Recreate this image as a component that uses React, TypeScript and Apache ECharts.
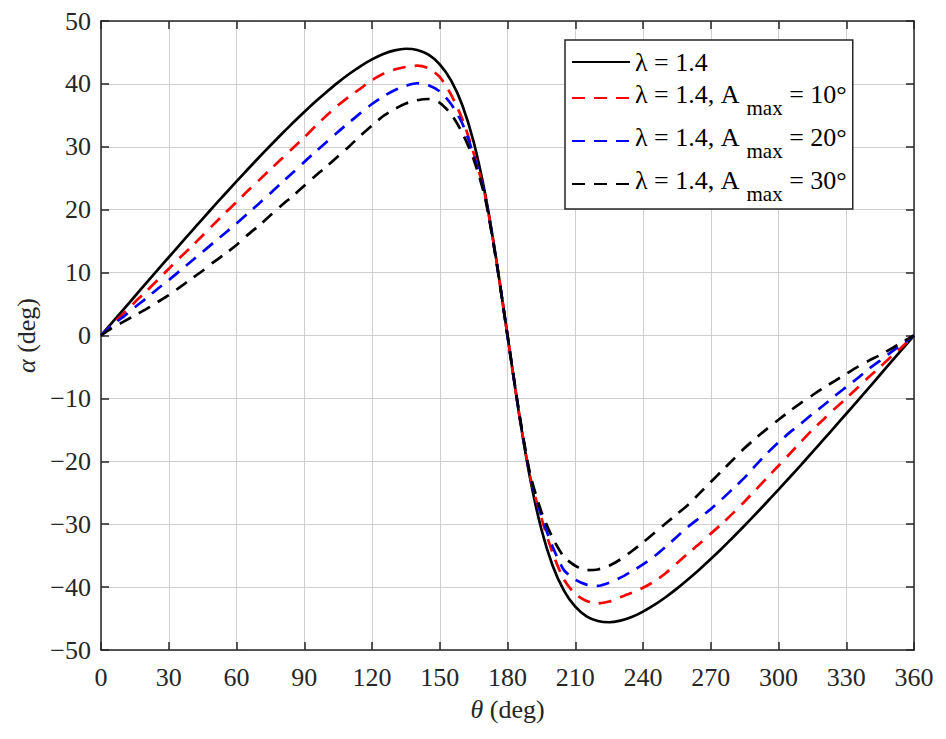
import React, { useEffect, useRef } from "react";
import * as echarts from "echarts";

const theta = [0,5,10,15,20,25,30,35,40,45,50,55,60,65,70,75,80,85,90,95,100,105,110,115,120,125,130,135,140,145,150,155,160,165,170,175,180,185,190,195,200,205,210,215,220,225,230,235,240,245,250,255,260,265,270,275,280,285,290,295,300,305,310,315,320,325,330,335,340,345,350,355,360];

const alphaBase = [0,2.08,4.16,6.24,8.32,10.38,12.44,14.49,16.53,18.55,20.56,22.54,24.5,26.43,28.34,30.21,32.04,33.82,35.54,37.19,38.76,40.25,41.61,42.84,43.89,44.75,45.33,45.59,45.39,44.64,43.12,40.56,36.61,30.8,22.69,12.18,0,
-12.18,-22.69,-30.8,-36.61,-40.56,-43.12,-44.64,-45.39,-45.59,-45.33,-44.75,-43.89,-42.84,-41.61,-40.25,-38.76,-37.19,-35.54,-33.82,-32.04,-30.21,-28.34,-26.43,-24.5,-22.54,-20.56,-18.55,-16.53,-14.49,-12.44,-10.38,-8.32,-6.24,-4.16,-2.08,0];

const alphaA10 = [0,1.8,3.5,5.3,7.0,8.8,10.6,12.4,14.1,15.9,17.7,19.5,21.2,23.0,24.7,26.4,28.1,29.8,31.5,33.3,35.0,36.6,38.0,39.3,40.6,41.6,42.3,42.7,42.9,42.5,41.1,38.3,34.4,29.0,22.4,12.1,0,
-12.1,-22.4,-29.0,-34.6,-38.8,-41.1,-42.2,-42.6,-42.3,-41.6,-40.9,-40.1,-39.1,-37.8,-36.2,-34.6,-33.1,-31.5,-29.9,-28.2,-26.4,-24.5,-22.6,-20.7,-18.8,-16.9,-15.0,-13.3,-11.6,-10.0,-8.3,-6.6,-5.0,-3.3,-1.7,0];

const alphaA20 = [0,1.7,3.0,4.5,5.9,7.4,8.8,10.3,11.8,13.3,14.8,16.3,17.8,19.4,21.0,22.6,24.3,25.9,27.6,29.2,30.8,32.4,33.9,35.4,36.8,38.0,39.0,39.7,40.1,39.8,38.8,36.8,33.7,28.7,22.3,12.0,0,
-12.0,-22.3,-28.7,-33.6,-37.3,-38.8,-39.6,-39.8,-39.3,-38.5,-37.5,-36.4,-35.1,-33.6,-32.0,-30.4,-29.0,-27.6,-26.0,-24.3,-22.6,-20.6,-18.7,-17.0,-15.4,-14.0,-12.5,-11.1,-9.6,-8.2,-6.8,-5.3,-4.0,-2.6,-1.3,0];

const alphaA30 = [0,1.2,2.2,3.2,4.2,5.3,6.4,7.7,9.0,10.3,11.7,13.0,14.4,16.0,17.5,19.1,20.7,22.2,23.8,25.4,26.9,28.5,30.1,31.8,33.4,34.9,36.0,36.9,37.4,37.6,37.0,35.2,32.2,28.0,22.0,11.9,0,
-11.9,-22.0,-28.0,-32.2,-35.2,-36.6,-37.3,-37.2,-36.6,-35.6,-34.3,-32.9,-31.4,-29.9,-28.4,-26.9,-25.1,-23.3,-21.5,-19.7,-17.9,-16.3,-14.8,-13.4,-12.0,-10.7,-9.5,-8.3,-7.2,-6.1,-5.0,-4.0,-3.1,-2.1,-1.0,0];

const seriesNames = ["λ = 1.4", "λ = 1.4, Amax = 10°", "λ = 1.4, Amax = 20°", "λ = 1.4, Amax = 30°"];
const legendMain = ["λ = 1.4", "λ = 1.4, A", "λ = 1.4, A", "λ = 1.4, A"];
const legendSub = ["", "max", "max", "max"];
const legendTail = ["", " = 10°", " = 20°", " = 30°"];
const seriesColors = ["#000000", "#ff0000", "#0000ff", "#000000"];
const seriesDashed = [false, true, true, true];
const seriesValues = [alphaBase, alphaA10, alphaA20, alphaA30];

const FONT = "Liberation Serif";
const AXIS_COLOR = "#262626";

export default function App() {
  const ref = useRef<HTMLDivElement>(null);

  useEffect(() => {
    if (!ref.current) return;
    const chart = echarts.init(ref.current, undefined, { renderer: "svg" });

    const axisLine = { show: true, onZero: false, lineStyle: { color: AXIS_COLOR, width: 1.5 } };
    const axisTick = { show: true, inside: true, length: 8, lineStyle: { color: AXIS_COLOR, width: 1.5 } };
    const splitLine = { show: true, lineStyle: { color: "#cfcfcf", width: 1 } };
    const labelStyle = { fontFamily: FONT, fontSize: 26, color: AXIS_COLOR };
    const nameStyle = {
      fontFamily: FONT,
      fontSize: 26,
      color: AXIS_COLOR,
      rich: { i: { fontFamily: FONT, fontSize: 26, color: AXIS_COLOR, fontStyle: "italic" } },
    };

    const option: any = {
      animation: false,
      backgroundColor: "#ffffff",
      textStyle: { fontFamily: FONT },
      grid: { left: 101, top: 21, right: 32, bottom: 89, containLabel: false },
      xAxis: [
        {
          type: "value", min: 0, max: 360, interval: 30, position: "bottom",
          name: "{i|θ} (deg)", nameLocation: "middle", nameGap: 46, nameTextStyle: nameStyle,
          axisLine, axisTick,
          axisLabel: { ...labelStyle, margin: 14 },
          splitLine,
        },
        {
          type: "value", min: 0, max: 360, interval: 30, position: "top",
          axisLine, axisTick, axisLabel: { show: false }, splitLine: { show: false },
        },
      ],
      yAxis: [
        {
          type: "value", min: -50, max: 50, interval: 10, position: "left",
          name: "{i|α} (deg)", nameLocation: "middle", nameGap: 50, nameTextStyle: nameStyle,
          axisLine, axisTick,
          axisLabel: {
            ...labelStyle, margin: 10,
            formatter: (v: number) => (v < 0 ? "\u2212" + Math.abs(v) : String(v)),
          },
          splitLine,
        },
        {
          type: "value", min: -50, max: 50, interval: 10, position: "right",
          axisLine, axisTick, axisLabel: { show: false }, splitLine: { show: false },
        },
      ],
      legend: {
        orient: "vertical",
        left: 565,
        top: 40,
        padding: [9, 6, 5, 6],
        itemGap: 3,
        itemWidth: 58,
        itemHeight: 14,
        selectedMode: false,
        backgroundColor: "#ffffff",
        borderColor: AXIS_COLOR,
        borderWidth: 1.5,
        itemStyle: { opacity: 0 },
        data: seriesNames,
        formatter: (name: string) => {
          const i = seriesNames.indexOf(name);
          if (!legendSub[i]) return `{r|${legendMain[i]}}`;
          return `{m|${legendMain[i]}}{s|${legendSub[i]}}{m|${legendTail[i]}}`;
        },
        textStyle: {
          fontFamily: FONT,
          fontSize: 26,
          color: "#000000",
          rich: {
            r: { fontFamily: FONT, fontSize: 26, lineHeight: 26, color: "#000000" },
            m: { fontFamily: FONT, fontSize: 26, lineHeight: 26, color: "#000000", padding: [0, 0, 8, 0] },
            s: { fontFamily: FONT, fontSize: 21, lineHeight: 38, color: "#000000", padding: [19, 0, 0, 7] },
          },
        },
      },
      series: seriesNames.map((name, k) => ({
        name,
        type: "line",
        xAxisIndex: 0,
        yAxisIndex: 0,
        data: theta.map((t, i) => [t, seriesValues[k][i]]),
        symbol: "none",
        showSymbol: false,
        smooth: 0.25,
        lineStyle: {
          color: seriesColors[k],
          width: 2.7,
          type: seriesDashed[k] ? [13, 9] : "solid",
        },
        itemStyle: { color: seriesColors[k] },
        z: 2 + k,
      })),
    };

    chart.setOption(option);
    return () => chart.dispose();
  }, []);

  return (
    <div
      ref={ref}
      style={{ position: "fixed", left: 0, top: 0, width: 946, height: 739, background: "#fff" }}
    />
  );
}
